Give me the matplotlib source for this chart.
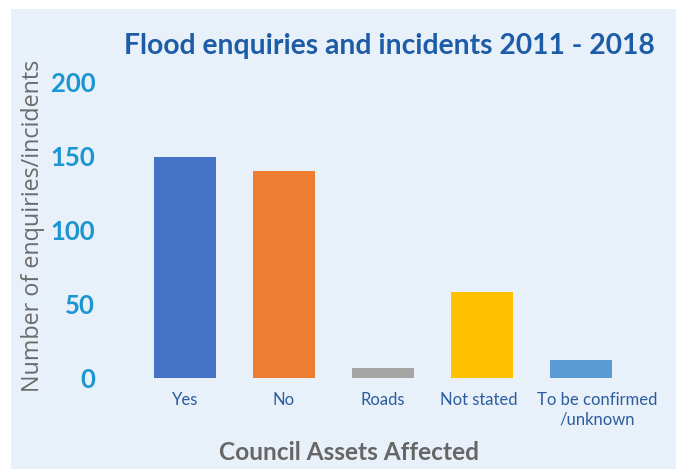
import matplotlib
matplotlib.use("Agg")
import matplotlib.pyplot as plt
from matplotlib.patches import Rectangle
from matplotlib.transforms import ScaledTranslation

# data
categories = ['Yes', 'No', 'Roads', 'Not stated', 'To be confirmed\n/unknown']
counts = [149, 140, 7, 58, 12]
bar_colors = ['#4472C4', '#ED7D31', '#A5A5A5', '#FFC000', '#5B9BD5']
yticks = [0, 50, 100, 150, 200]

plt.rcParams['font.family'] = ['Lato', 'DejaVu Sans']

fig = plt.figure(figsize=(6.76, 4.69), dpi=100, facecolor='white')
# light blue panel
fig.patches.append(Rectangle((11/676, 0), 1, 1 - 9/469, transform=fig.transFigure,
                             facecolor='#E8F0F9', edgecolor='none', zorder=-10))

ax = fig.add_axes([135.5/676, 91/469, 495/676, 296/469])
ax.patch.set_alpha(0)
ax.bar(range(len(categories)), counts, width=0.63, color=bar_colors)
ax.set_xlim(-0.5, len(categories) - 0.5)
ax.set_ylim(0, 200)
ax.set_yticks(yticks)
ax.set_yticklabels([str(t) for t in yticks], fontsize=18.5, fontweight='bold', color='#1B96D1')
ax.set_xticks(range(len(categories)))
ax.set_xticklabels(categories, fontsize=12, color='#2B5D9E', linespacing=1.3)
ax.tick_params(axis='both', length=0)
ax.tick_params(axis='y', pad=29)
ax.tick_params(axis='x', pad=10)
for s in ax.spines.values():
    s.set_visible(False)

# the last label sits a little right of its bar in the original
lbl = ax.get_xticklabels()[-1]
lbl.set_transform(lbl.get_transform() + ScaledTranslation(16/100, 0, fig.dpi_scale_trans))
lbl = ax.get_xticklabels()[-2]
lbl.set_transform(lbl.get_transform() + ScaledTranslation(-3/100, 0, fig.dpi_scale_trans))

fig.text(389/676, 1 - 46/469, 'Flood enquiries and incidents 2011 - 2018',
         ha='center', va='center', fontsize=20.3, fontweight='bold', color='#1D5CA6')
fig.text(33/676, 1 - 226/469, 'Number of enquiries/incidents', rotation=90,
         ha='center', va='center', fontsize=16.8, color='#6B6B6B', family=['Open Sans', 'DejaVu Sans'])
fig.text(349/676, 1 - 452/469, 'Council Assets Affected',
         ha='center', va='center', fontsize=17.6, fontweight='bold', color='#666666')

fig.savefig('out.png', dpi=100, facecolor='white')
